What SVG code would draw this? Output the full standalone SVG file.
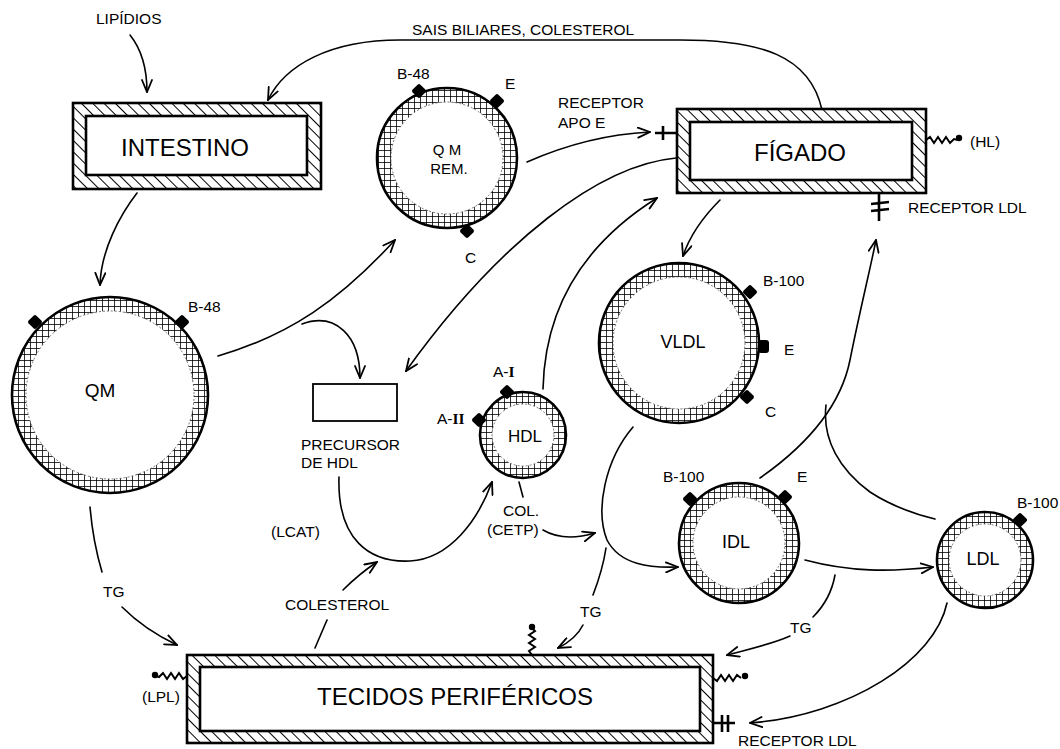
<svg xmlns="http://www.w3.org/2000/svg" width="1060" height="749" viewBox="0 0 1060 749">
<defs>
<style>
.t{font-family:"Liberation Sans",Arial,Helvetica,sans-serif;fill:#000}
.s{font-size:15.5px}
.b{font-size:24px}
.m{font-size:18px}
.ln{fill:none;stroke:#000;stroke-width:1.6;stroke-linecap:round}
.ar{marker-end:url(#ah)}
.thk{fill:none;stroke:#000;stroke-width:2.6}
.box{stroke:#000;stroke-width:2.6}
.ring{fill:none;stroke:url(#grid)}
.oc{fill:none;stroke:#000;stroke-width:2.6}
.ic{fill:none;stroke:#555;stroke-width:0.8;stroke-dasharray:2 2}
.zz{fill:none;stroke:#000;stroke-width:2;stroke-linejoin:miter}
</style>
<pattern id="hatch" width="8" height="8" patternUnits="userSpaceOnUse" patternTransform="rotate(-45)">
<rect width="8" height="8" fill="#fff"/>
<line x1="0" y1="0" x2="0" y2="8" stroke="#000" stroke-width="2"/>
</pattern>
<pattern id="grid" width="6" height="6" patternUnits="userSpaceOnUse">
<rect width="6" height="6" fill="#fff"/>
<path d="M0 0.5H6M0.5 0V6" stroke="#000" stroke-width="0.8"/>
</pattern>
<marker id="ah" viewBox="0 0 14 12" refX="13" refY="6" markerWidth="14" markerHeight="12" markerUnits="userSpaceOnUse" orient="auto">
<path d="M1 1L13 6L1 11" fill="none" stroke="#000" stroke-width="1.8" stroke-linecap="round" stroke-linejoin="miter"/>
</marker>
<rect id="dia" x="-5.5" y="-5.5" width="11" height="11" rx="2" transform="rotate(45)" fill="#000"/>
</defs>
<rect width="1060" height="749" fill="#fff"/>

<g id="connectors">
<path class="ln ar" d="M130 35C142 50 147 70 147 92"/>
<path class="ln ar" d="M822 110C810 55 760 40 680 40L400 40C330 40 285 65 268 100"/>
<path class="ln ar" d="M137 193C120 215 101 250 100 285"/>
<path class="ln ar" d="M218 356C290 335 340 300 395 240"/>
<path class="ln ar" d="M302 324C335 312 360 335 360 378"/>
<path class="ln ar" d="M527 162C570 143 610 134 650 132"/>
<path class="ln ar" d="M676 158C600 165 500 240 406 371"/>
<path class="ln ar" d="M543 389C545 300 590 240 657 198"/>
<path class="ln ar" d="M720 200C705 215 690 235 683 256"/>
<path class="ln ar" d="M760 478C800 450 840 410 850 360C860 310 870 270 876 240"/>
<path class="ln" d="M826 405C822 440 840 470 870 492C890 505 910 513 935 519"/>
<path class="ln ar" d="M339 477C337 540 370 563 410 561C450 559 478 520 492 482"/>
<path class="ln" d="M315 648L327 620"/>
<path class="ln ar" d="M343 590C355 578 365 570 377 562"/>
<path class="ln" d="M519 482L523 497"/>
<path class="ln ar" d="M543 530C560 540 578 538 595 533"/>
<path class="ln ar" d="M633 427C605 460 595 510 607 540C620 565 650 568 678 567"/>
<path class="ln" d="M606 548C603 568 598 582 593 595"/>
<path class="ln ar" d="M583 625C578 635 570 642 558 648"/>
<path class="ln ar" d="M805 560C850 572 890 572 933 567"/>
<path class="ln" d="M835 575C832 592 825 605 813 617"/>
<path class="ln ar" d="M790 636C770 645 745 650 727 655"/>
<path class="ln ar" d="M947 603C935 660 850 715 750 723"/>
<path class="ln" d="M90 507C92 530 96 552 102 572"/>
<path class="ln ar" d="M122 607C140 625 160 637 177 645"/>
</g>

<g id="intestino">
<rect x="73" y="103" width="248" height="86" fill="url(#hatch)" class="box"/>
<rect x="86" y="116" width="221" height="59" fill="#fff" class="box"/>
<text class="t b" x="185" y="156" text-anchor="middle">INTESTINO</text>
</g>

<g id="figado">
<rect x="677" y="109" width="249" height="84" fill="url(#hatch)" class="box"/>
<rect x="690" y="122" width="222" height="58" fill="#fff" class="box"/>
<text class="t b" x="800" y="161" text-anchor="middle">FÍGADO</text>
<path class="thk" d="M655 133H677M663 126V140"/>
<path class="zz" d="M926 140l4-3l4 6l4-6l4 6l4-6l4 6l4-4l4 1"/>
<circle cx="959" cy="138" r="3.2" fill="#000"/>
<path class="thk" d="M879 193V221M871 204L889 202M871 211L889 209"/>
</g>

<g id="tecidos">
<rect x="187" y="655" width="526" height="88" fill="url(#hatch)" class="box"/>
<rect x="200" y="667" width="500" height="64" fill="#fff" class="box"/>
<text class="t b" x="455" y="705" text-anchor="middle">TECIDOS PERIFÉRICOS</text>
<path class="zz" d="M187 676l-4 3l-4-6l-4 6l-4-6l-4 6l-4-6l-4 4l-3-1"/>
<circle cx="155" cy="675" r="3.2" fill="#000"/>
<path class="zz" d="M532 655l-3-4l6-4l-6-4l6-4l-6-4l6-4l-3-3"/>
<circle cx="532" cy="627" r="3.2" fill="#000"/>
<path class="zz" d="M713 678l4 3l4-6l4 6l4-6l4 6l4-6l4 3"/>
<circle cx="745" cy="676" r="3.2" fill="#000"/>
<path class="thk" d="M713 723H735M722 715V732M728 715V732"/>
</g>

<g id="qm">
<circle class="ring" cx="110" cy="395" r="91" stroke-width="14"/>
<circle class="oc" cx="110" cy="395" r="98"/>
<circle class="ic" cx="110" cy="395" r="84"/>
<use href="#dia" x="35" y="322"/>
<use href="#dia" x="182" y="322"/>
<text class="t" x="100" y="397" text-anchor="middle" font-size="19">QM</text>
</g>

<g id="qmrem">
<circle class="ring" cx="447" cy="158" r="63" stroke-width="14"/>
<circle class="oc" cx="447" cy="158" r="70"/>
<circle class="ic" cx="447" cy="158" r="56"/>
<use href="#dia" x="419" y="91"/>
<use href="#dia" x="497" y="101"/>
<use href="#dia" x="467" y="231"/>
<text class="t" x="447" y="155" text-anchor="middle" font-size="15">Q M</text>
<text class="t" x="449" y="174" text-anchor="middle" font-size="15">REM.</text>
</g>

<g id="vldl">
<circle class="ring" cx="679" cy="343" r="73" stroke-width="14"/>
<circle class="oc" cx="679" cy="343" r="80"/>
<circle class="ic" cx="679" cy="343" r="66"/>
<use href="#dia" x="750" y="292"/>
<rect x="758" y="340" width="11" height="13" rx="3" fill="#000"/>
<use href="#dia" x="747" y="397"/>
<text class="m t" x="683" y="348" text-anchor="middle">VLDL</text>
</g>

<g id="idl">
<circle class="ring" cx="739" cy="543" r="53" stroke-width="14"/>
<circle class="oc" cx="739" cy="543" r="60"/>
<circle class="ic" cx="739" cy="543" r="46"/>
<use href="#dia" x="690" y="499"/>
<use href="#dia" x="785" y="497"/>
<text class="m t" x="736" y="548" text-anchor="middle">IDL</text>
</g>

<g id="ldl">
<circle class="ring" cx="985" cy="560" r="42" stroke-width="12"/>
<circle class="oc" cx="985" cy="560" r="48"/>
<circle class="ic" cx="985" cy="560" r="36"/>
<use href="#dia" x="1020" y="520"/>
<text class="m t" x="983" y="565" text-anchor="middle">LDL</text>
</g>

<g id="hdl">
<circle class="ring" cx="523" cy="435" r="37" stroke-width="12"/>
<circle class="oc" cx="523" cy="435" r="43"/>
<circle class="ic" cx="523" cy="435" r="31"/>
<use href="#dia" x="507" y="392"/>
<use href="#dia" x="479" y="420"/>
<text class="t" x="525" y="442" text-anchor="middle" font-size="17">HDL</text>
</g>

<g id="precursor">
<rect x="313" y="384" width="84" height="37" fill="#fff" stroke="#000" stroke-width="1.8"/>
<text class="t s" x="301" y="450">PRECURSOR</text>
<text class="t s" x="301" y="468">DE HDL</text>
</g>

<g id="labels">
<text class="t s" x="96" y="24">LIPÍDIOS</text>
<text class="t s" x="412" y="35">SAIS BILIARES, COLESTEROL</text>
<text class="t s" x="558" y="108">RECEPTOR</text>
<text class="t s" x="558" y="128">APO E</text>
<text class="t s" x="970" y="147">(HL)</text>
<text class="t s" x="908" y="213">RECEPTOR LDL</text>
<text class="t s" x="397" y="79">B-48</text>
<text class="t s" x="505" y="89">E</text>
<text class="t s" x="465" y="263">C</text>
<text class="t s" x="188" y="312">B-48</text>
<text class="t s" x="271" y="537">(LCAT)</text>
<text class="t s" x="285" y="610">COLESTEROL</text>
<text class="t s" x="493" y="377">A-<tspan font-family="'Liberation Serif','Times New Roman',serif" font-weight="bold">I</tspan></text>
<text class="t s" x="437" y="424">A-<tspan font-family="'Liberation Serif','Times New Roman',serif" font-weight="bold">II</tspan></text>
<text class="t s" x="503" y="516">COL.</text>
<text class="t s" x="487" y="535">(CETP)</text>
<text class="t s" x="763" y="286">B-100</text>
<text class="t s" x="784" y="355">E</text>
<text class="t s" x="765" y="417">C</text>
<text class="t s" x="663" y="482">B-100</text>
<text class="t s" x="797" y="482">E</text>
<text class="t s" x="1017" y="508">B-100</text>
<text class="t s" x="103" y="597">TG</text>
<text class="t s" x="580" y="617">TG</text>
<text class="t s" x="790" y="633">TG</text>
<text class="t s" x="142" y="702">(LPL)</text>
<text class="t s" x="738" y="746">RECEPTOR LDL</text>
</g>
</svg>
